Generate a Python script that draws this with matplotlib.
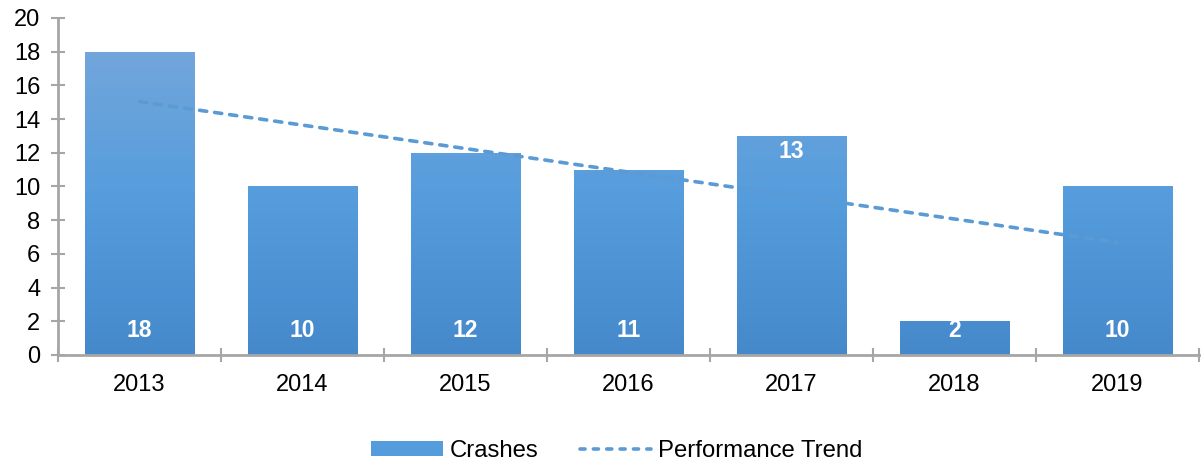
import numpy as np
import matplotlib
matplotlib.use("Agg")
from matplotlib import pyplot as plt
from matplotlib.colors import LinearSegmentedColormap
from matplotlib.patches import Patch
from matplotlib.lines import Line2D

plt.rcParams['font.family'] = ['Liberation Sans', 'DejaVu Sans']

# data
years   = ['2013', '2014', '2015', '2016', '2017', '2018', '2019']
crashes = [18, 10, 12, 11, 13, 2, 10]
label_at_top = [False, False, False, False, True, False, False]

grey  = '#A6A6A6'
blue  = '#5B9BD5'
grad  = LinearSegmentedColormap.from_list('g', ['#4589CB', '#559CDD', '#72A6DB'])

fig = plt.figure(figsize=(12.04, 4.66), dpi=100)
ax  = fig.add_axes([0.0482, 0.2382, 0.9476, 0.7232])

x     = np.arange(len(years))
width = 0.67
bars  = ax.bar(x, crashes, width, color='none', edgecolor='none', zorder=2)

# gradient fill clipped to each bar
g = np.linspace(0, 1, 256).reshape(-1, 1)
for b in bars:
    x0, y0 = b.get_x(), b.get_y()
    im = ax.imshow(g, cmap=grad, origin='lower', aspect='auto',
                   extent=[x0, x0 + b.get_width(), 0, 18], zorder=2)
    im.set_clip_path(b)

# linear trend line
k, c = np.polyfit(x + 1, crashes, 1)
trend = k * (x + 1) + c
ax.plot(x, trend, color=blue, lw=2.6, dashes=(2.0, 2.2),
        dash_capstyle='round', zorder=3)

# value labels
for i, v in enumerate(crashes):
    ypos = v - 0.95 if label_at_top[i] else 1.45
    ax.text(x[i], ypos, str(v), ha='center', va='center', color='white',
            fontsize=16.5, fontweight='bold', zorder=4)

ax.set_xlim(-0.5, len(years) - 0.5)
ax.set_ylim(0, 20)
ax.set_yticks(range(0, 21, 2))
ax.set_xticks(x)
ax.set_xticklabels(years)
ax.set_xticks(np.arange(-0.5, len(years)), minor=True)
ax.tick_params(axis='x', which='major', length=0, pad=14, labelsize=17)
ax.tick_params(axis='x', which='minor', length=10, direction='inout', color=grey, width=1.5)
ax.tick_params(axis='y', length=9.4, direction='inout', color=grey, width=1.5,
               labelsize=17, pad=8)

for s in ['top', 'right']:
    ax.spines[s].set_visible(False)
for s in ['left', 'bottom']:
    ax.spines[s].set_color(grey)
    ax.spines[s].set_linewidth(2)

handles = [Patch(facecolor='#559CDD', edgecolor='none'),
           Line2D([0], [0], color=blue, lw=2.6, dashes=(1.4, 2.3),
                  dash_capstyle='round')]
fig.legend(handles, ['Crashes', 'Performance Trend'], loc='center',
           bbox_to_anchor=(0.5125, 0.032), ncol=2, frameon=False,
           fontsize=17.2, handlelength=3.0, handleheight=0.55,
           handletextpad=0.3, columnspacing=1.7)

fig.savefig('out.png', dpi=100)
